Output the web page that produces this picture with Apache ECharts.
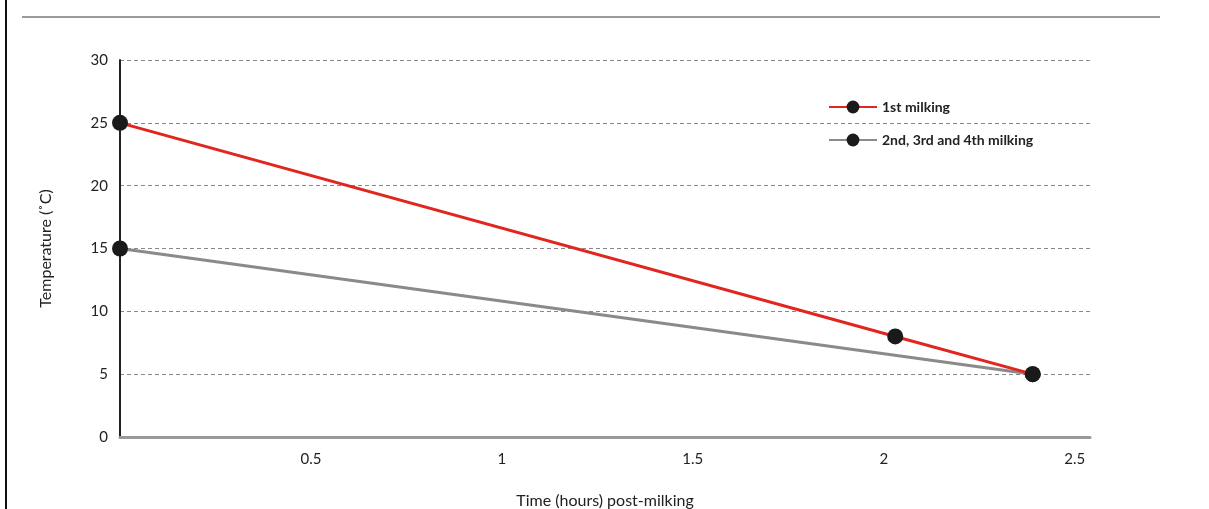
<!DOCTYPE html>
<html><head><meta charset="utf-8">
<script src="https://cdn.jsdelivr.net/npm/echarts@6/dist/echarts.min.js"></script>
<style>html,body{margin:0;padding:0;background:#fff}#c{width:1209px;height:509px}</style>
</head><body><div id="c"></div>
<script>
const seriesNames = ['1st milking', '2nd, 3rd and 4th milking'];
const firstMilking = [[0, 25], [2.03, 8], [2.39, 5]];
const laterMilkings = [[0, 15], [2.39, 5]];
const xTickLabels = [0.5, 1, 1.5, 2, 2.5];
const yTicks = [0, 5, 10, 15, 20, 25, 30];

const font = 'Lato, "Open Sans", sans-serif';
const chart = echarts.init(document.getElementById('c'));
chart.setOption({
  animation: false,
  backgroundColor: '#fff',
  graphic: [
    {type: 'line', shape: {x1: 22, y1: 17, x2: 1160, y2: 17}, style: {stroke: '#9a9a9a', lineWidth: 2}},
    {type: 'line', shape: {x1: 6, y1: 0, x2: 6, y2: 509}, style: {stroke: '#111', lineWidth: 2}}
  ],
  grid: {left: 120, top: 60, right: 119, bottom: 72, containLabel: false, outerBoundsMode: 'none'},
  legend: {
    left: 823, top: 95, orient: 'vertical', itemGap: 19,
    itemWidth: 48, itemHeight: 16,
    textStyle: {fontFamily: font, fontSize: 14, fontWeight: 'bold', color: '#222'},
    data: seriesNames
  },
  xAxis: {
    type: 'value', min: 0, max: 2.54,
    name: 'Time (hours) post-milking', nameLocation: 'middle', nameGap: 56,
    nameTextStyle: {fontFamily: font, fontSize: 16, color: '#222'},
    axisLine: {lineStyle: {color: '#999', width: 3}},
    axisTick: {show: false},
    splitLine: {show: false},
    axisLabel: {customValues: xTickLabels, fontFamily: font, fontSize: 15, color: '#222', margin: 15}
  },
  yAxis: {
    type: 'value', min: 0, max: 30, interval: 5,
    name: 'Temperature (˚C)', nameLocation: 'middle', nameGap: 66,
    nameTextStyle: {fontFamily: font, fontSize: 16, color: '#222'},
    axisLine: {show: true, lineStyle: {color: '#222', width: 2}},
    axisTick: {show: false},
    axisLabel: {fontFamily: font, fontSize: 15, color: '#222', margin: 12},
    splitLine: {show: true, lineStyle: {color: '#888', type: [4, 3], width: 1}}
  },
  series: [
    {name: seriesNames[0], type: 'line', data: firstMilking, symbol: 'circle', symbolSize: 16,
     itemStyle: {color: '#1a1a1a'}, lineStyle: {color: '#e0261f', width: 3}, z: 3},
    {name: seriesNames[1], type: 'line', data: laterMilkings, symbol: 'circle', symbolSize: 16,
     itemStyle: {color: '#1a1a1a'}, lineStyle: {color: '#8a8a8a', width: 3}, z: 2}
  ]
});
</script></body></html>
